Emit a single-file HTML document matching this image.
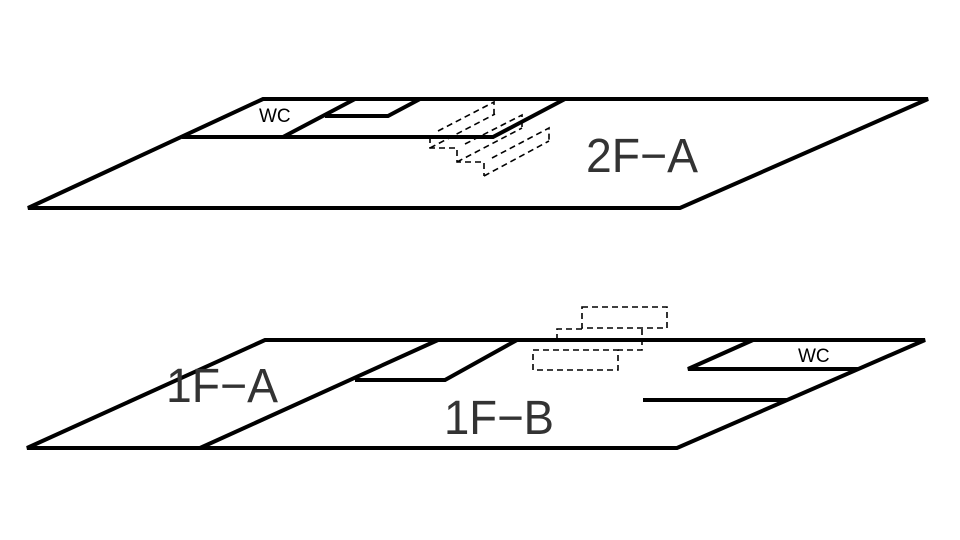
<!DOCTYPE html>
<html><head><meta charset="utf-8"><style>html,body{margin:0;padding:0;background:#fff}svg{display:block}</style></head>
<body>
<svg width="960" height="540" viewBox="0 0 960 540" xmlns="http://www.w3.org/2000/svg">
<g fill="none" stroke="#000" stroke-width="4" stroke-linejoin="miter">
<!-- top plate -->
<polygon points="263,99 928,99 680,208 28,208"/>
<polyline points="182,137 493,137 565,99"/>
<line x1="283" y1="137" x2="355" y2="99"/>
<polyline points="325,116 388,116 420,99"/>
<!-- bottom plate -->
<polygon points="265,340 925,340 677,448 27,448"/>
<line x1="200" y1="448" x2="438" y2="340"/>
<polyline points="355,380 445,380 517,340"/>
<polyline points="753,340 688,369 858,369"/>
<line x1="643" y1="400" x2="787" y2="400"/>
</g>
<g fill="none" stroke="#000" stroke-width="1.6" stroke-dasharray="6,4">
<!-- top stairs -->
<polyline points="430,137 430,148 457,148"/>
<line x1="430" y1="148" x2="495" y2="114"/>
<polyline points="438,131 494,102 494,114"/>
<polyline points="457,150 457,162 484,162"/>
<line x1="457" y1="162" x2="522" y2="128"/>
<polyline points="465,144 522,115 522,128"/>
<polyline points="484,163 484,176"/>
<line x1="484" y1="176" x2="549" y2="141"/>
<polyline points="492,158 549,128 549,141"/>
<!-- bottom stairs -->
<rect x="582" y="307" width="85" height="21"/>
<polyline points="557,340 557,329 582,329"/>
<polyline points="642,329 642,350 618,350"/>
<rect x="533" y="350" width="85" height="20"/>
</g>
<g font-family="Liberation Sans, sans-serif" fill="#333">
<text x="259" y="122" font-size="19" fill="#000">WC</text>
<text x="798" y="362" font-size="19" fill="#000">WC</text>
<text x="586" y="172" font-size="48" textLength="112" lengthAdjust="spacingAndGlyphs">2F−A</text>
<text x="166" y="402" font-size="48" textLength="112" lengthAdjust="spacingAndGlyphs">1F−A</text>
<text x="444" y="434" font-size="48" textLength="110" lengthAdjust="spacingAndGlyphs">1F−B</text>
</g>
</svg>
</body></html>
